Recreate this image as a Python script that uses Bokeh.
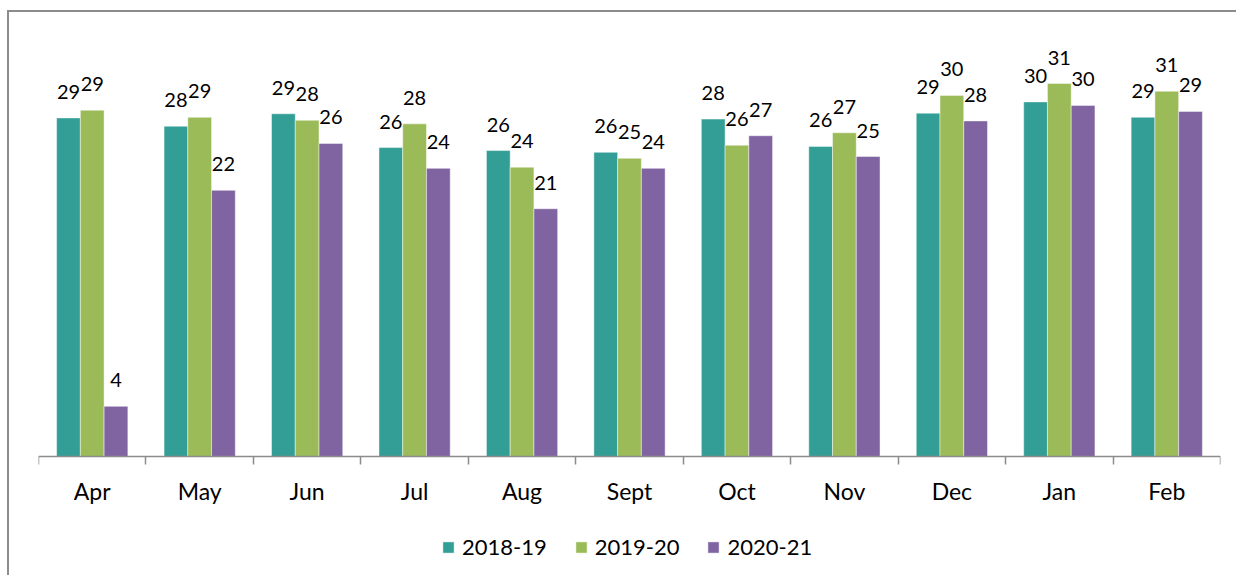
import numpy as np
from bokeh.plotting import figure
from bokeh.models import FixedTicker, Range1d, Legend, LegendItem, ColumnDataSource
from bokeh.core.properties import value
from bokeh.embed import file_html
from bokeh.resources import INLINE

months = ["Apr", "May", "Jun", "Jul", "Aug", "Sept", "Oct", "Nov", "Dec", "Jan", "Feb"]
series = ["2018-19", "2019-20", "2020-21"]
v_2018_19 = [28.55, 27.85, 28.9, 26.05, 25.8, 25.65, 28.45, 26.15, 28.95, 29.9, 28.6]
v_2019_20 = [29.2, 28.6, 28.35, 28.05, 24.4, 25.15, 26.25, 27.3, 30.45, 31.45, 30.8]
v_2020_21 = [4.25, 22.45, 26.4, 24.3, 20.9, 24.3, 27.05, 25.3, 28.3, 29.6, 29.1]
colors = ["#339E95", "#9BBB59", "#8064A2"]

FONT = "Lato"
bar_w = 0.221
offsets = [-bar_w, 0.0, bar_w]

p = figure(frame_width=1182, frame_height=546, output_backend="svg", toolbar_location=None,
           x_range=Range1d(0, len(months)), y_range=Range1d(-10, 36),
           min_border_left=29, min_border_right=16, min_border_top=17, min_border_bottom=0)
p.styles = {"border-top": "2px solid #8c8c8c", "border-left": "2px solid #8c8c8c",
            "margin-left": "7px", "margin-top": "10px"}
p.outline_line_color = None
p.grid.visible = False
p.yaxis.visible = False

centers = np.arange(len(months)) + 0.5
items = []
for name, vals, col, off in zip(series, [v_2018_19, v_2019_20, v_2020_21], colors, offsets):
    src = ColumnDataSource(dict(x=centers + off, top=vals,
                                lab=[str(int(round(v))) for v in vals]))
    r = p.vbar(x="x", top="top", width=bar_w, bottom=0, source=src,
               fill_color=col, line_color="white", line_alpha=0.45, line_width=1)
    p.text(x="x", y="top", text="lab", source=src, text_align="center",
           text_baseline="alphabetic", y_offset=-26, text_font=value(FONT),
           text_font_size="20px", text_color="#000000")
    items.append(LegendItem(label=name, renderers=[r]))

ax = p.xaxis[0]
ax.fixed_location = 0
ax.ticker = FixedTicker(ticks=list(centers), minor_ticks=list(range(len(months) + 1)))
ax.major_label_overrides = {float(c): m for c, m in zip(centers, months)}
ax.major_tick_line_color = None
ax.major_tick_in = 0
ax.major_tick_out = 0
ax.minor_tick_in = 0
ax.minor_tick_out = 8
ax.minor_tick_line_color = "#8c8c8c"
ax.minor_tick_line_width = 1.5
ax.axis_line_color = "#8c8c8c"
ax.axis_line_width = 1.5
ax.major_label_text_font = FONT
ax.major_label_text_font_size = "23px"
ax.major_label_text_color = "#000000"
ax.major_label_standoff = 12

legend = Legend(items=items, orientation="horizontal", location=(403, 15),
                label_text_font=FONT, label_text_font_size="22px", label_text_color="#000000",
                glyph_width=14, glyph_height=14, label_standoff=7, spacing=27,
                border_line_color=None, background_fill_alpha=0, padding=5, margin=0)
p.add_layout(legend, "center")

html = file_html(p, INLINE)
html = html.replace("<body>", '<body style="overflow:hidden">', 1)
open("out.html", "w").write(html)
